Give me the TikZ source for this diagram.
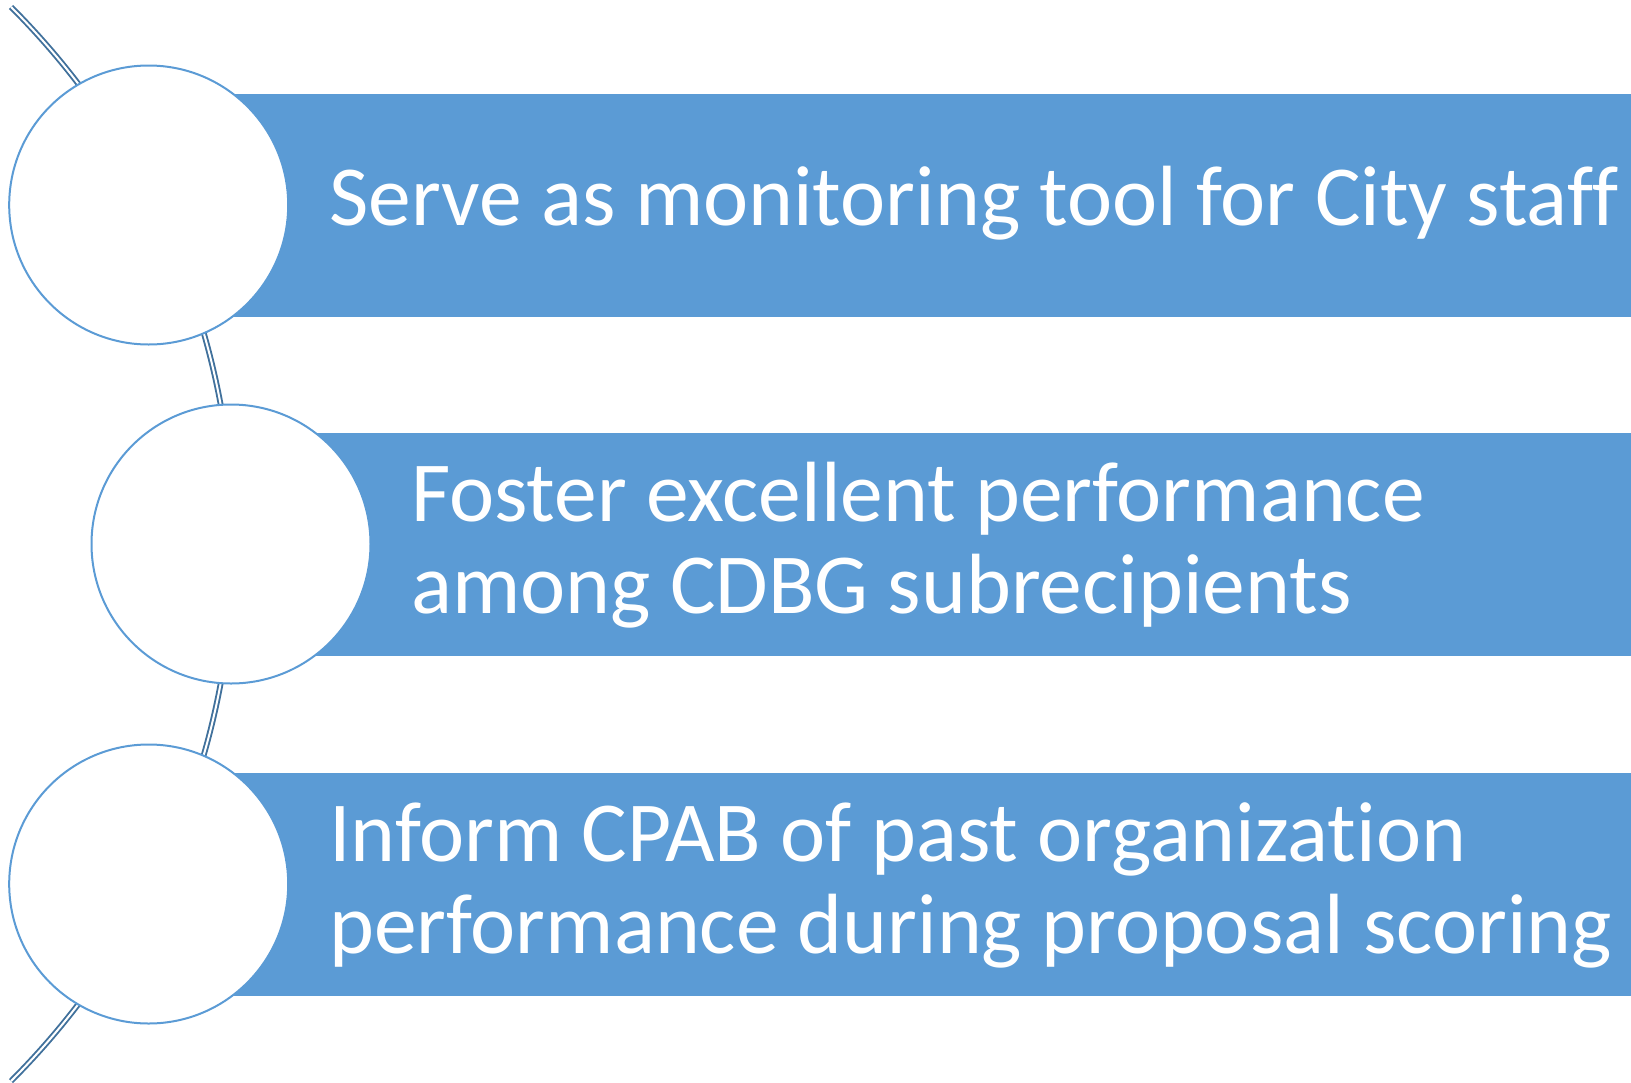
\documentclass[tikz,border=0pt]{standalone}
\usepackage{fontspec}
\setmainfont[Ligatures=NoCommon]{Carlito}
\definecolor{accent}{HTML}{5B9BD5}
\definecolor{arcblue}{HTML}{41719C}
\begin{document}
\begin{tikzpicture}[x=1pt,y=-1pt,
  bar/.style={fill=accent, draw=none, rectangle, inner sep=0pt, anchor=west, minimum height=223pt},
  bubble/.style={circle, fill=white, draw=accent, line width=2pt, minimum size=279pt, inner sep=0pt},
  txt/.style={anchor=base west, inner sep=0pt, text=white, font=\fontsize{85.5}{92}\selectfont},
  track/.style={draw=arcblue, line width=1.9pt, double=white, double distance=2pt}]
\useasboundingbox (0,0) rectangle (1631,1082);
% connecting arc
\coordinate (arcc) at (-526,544);
\draw[track] (arcc) ++(45:759.5) arc[start angle=45, end angle=-45, radius=759.5];
% bars
\node[bar, minimum width=1482.3pt] (b1) at (148.7,205) {};
\node[bar, minimum width=1400pt] (b2) at (231,544) {};
\node[bar, minimum width=1482.3pt] (b3) at (148.7,884) {};
% circles
\node[bubble] (c1) at (148.7,205) {};
\node[bubble] (c2) at (231,544) {};
\node[bubble] (c3) at (148.7,884) {};
% texts
\node[txt] (t1) at (329,225) {Serve as monitoring tool for City staff};
\node[txt] (t2a) at (411,521) {Foster excellent performance};
\node[txt] (t2b) at (411,613) {among CDBG subrecipients};
\node[txt] (t3a) at (329,861) {Inform CPAB of past organization};
\node[txt] (t3b) at (329,953) {performance during proposal scoring};
\end{tikzpicture}
\end{document}
